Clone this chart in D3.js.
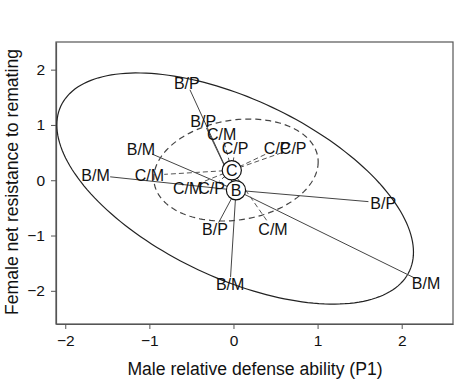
<!DOCTYPE html>
<html>
<head>
<meta charset="utf-8">
<script src="https://cdn.jsdelivr.net/npm/d3@7"></script>
<style>
  body { margin: 0; background: #fff; }
  text { font-family: Arial, "Liberation Sans", sans-serif; }
</style>
</head>
<body>
<svg width="474" height="385"></svg>
<script>
// group centroids
var groupNames = ["B", "C"],
    groupX = [0.03, -0.02],
    groupY = [-0.18, 0.18];

// labelled points, each one tied to a group centroid
var pointGroup = ["B", "B", "B", "B", "B", "B", "B", "B",
                  "C", "C", "C", "C", "C", "C", "C", "C"],
    pointLabel = ["B/P", "B/P", "B/M", "B/M", "B/P", "B/M", "B/P", "B/M",
                  "C/M", "C/P", "C/P", "C/P", "C/M", "C/M", "C/P", "C/M"],
    pointX = [-0.555, -0.36, -1.10, -1.64, -0.22, -0.04, 1.78, 2.29,
              -0.14, 0.02, 0.52, 0.71, -1.00, -0.545, -0.26, 0.47],
    pointY = [1.76, 1.07, 0.56, 0.09, -0.89, -1.88, -0.41, -1.87,
              0.84, 0.57, 0.57, 0.57, 0.09, -0.14, -0.14, -0.89];

// ellipses: centre, half extents along x and y, and their correlation
var ellipseGroup = ["B", "C"],
    ellipseCx = [0.02, 0.03],
    ellipseCy = [-0.15, 0.185],
    ellipseAx = [2.12, 0.977],
    ellipseAy = [2.09, 0.922],
    ellipseR = [-0.55, 0.16];

var xTicks = [-2, -1, 0, 1, 2],
    yTicks = [-2, -1, 0, 1, 2];

var svg = d3.select("svg"),
    margin = {top: 42, left: 56},
    width = 397,
    height = 282;

var x = d3.scaleLinear().domain([-2.11, 2.61]).range([0, width]);
var y = d3.scaleLinear().domain([-2.6, 2.5]).range([height, 0]);

var g = svg.append("g").attr("transform", "translate(" + margin.left + "," + margin.top + ")");

// frame
g.append("rect")
    .attr("width", width).attr("height", height)
    .attr("fill", "none").attr("stroke", "#555").attr("stroke-width", 1.2);

var xAxis = g.append("g").attr("transform", "translate(0," + height + ")")
    .call(d3.axisBottom(x).tickValues(xTicks).tickSize(5).tickSizeOuter(0).tickPadding(6).tickFormat(d3.format("d")));
var yAxis = g.append("g")
    .call(d3.axisLeft(y).tickValues(yTicks).tickSize(5).tickSizeOuter(0).tickPadding(6).tickFormat(d3.format("d")));

[xAxis, yAxis].forEach(function(a) {
  a.select(".domain").attr("stroke", "#555").attr("stroke-width", 1.2);
  a.selectAll(".tick line").attr("stroke", "#555");
  a.selectAll(".tick text").attr("fill", "#111").style("font-size", "15.5px")
      .style("font-family", "Arial, 'Liberation Sans', sans-serif");
});

// axis titles
svg.append("text")
    .attr("x", 255).attr("y", 375)
    .attr("text-anchor", "middle")
    .style("font-size", "17.6px").attr("fill", "#111")
    .text("Male relative defense ability (P1)");

svg.append("text")
    .attr("transform", "translate(18,182) rotate(-90)")
    .attr("text-anchor", "middle")
    .style("font-size", "17.6px").attr("fill", "#111")
    .text("Female net resistance to remating");

// ellipses
var ellipseLine = d3.line().curve(d3.curveLinearClosed);
ellipseGroup.forEach(function(grp, i) {
  var phi = Math.acos(ellipseR[i]);
  var pts = d3.range(0, 2 * Math.PI, Math.PI / 90).map(function(t) {
    return [x(ellipseCx[i] + ellipseAx[i] * Math.cos(t)),
            y(ellipseCy[i] + ellipseAy[i] * Math.cos(t + phi))];
  });
  g.append("path")
      .attr("d", ellipseLine(pts))
      .attr("fill", "none")
      .attr("stroke", grp === "B" ? "#222" : "#444")
      .attr("stroke-width", 1.2)
      .attr("stroke-dasharray", grp === "B" ? null : "6,4");
});

// spokes from centroid to each label, stopping at the label's edge
var points = pointLabel.map(function(lab, i) {
  var k = groupNames.indexOf(pointGroup[i]);
  return {label: lab, group: pointGroup[i],
          px: x(pointX[i]), py: y(pointY[i]),
          cx: x(groupX[k]), cy: y(groupY[k])};
});

g.selectAll(".spoke")
  .data(points)
  .enter().append("line")
    .attr("class", "spoke")
    .attr("x1", function(d) { return d.cx; })
    .attr("y1", function(d) { return d.cy; })
    .attr("x2", function(d) { return d.px - gap(d)[0]; })
    .attr("y2", function(d) { return d.py - gap(d)[1]; })
    .attr("stroke", function(d) { return d.group === "B" ? "#444" : "#555"; })
    .attr("stroke-width", 1)
    .attr("stroke-dasharray", function(d) { return d.group === "B" ? null : "5,3"; });

function gap(d) {
  var dx = d.px - d.cx, dy = d.py - d.cy, len = Math.sqrt(dx * dx + dy * dy);
  var ux = dx / len, uy = dy / len;
  var t = 1 / Math.sqrt((ux / 15) * (ux / 15) + (uy / 7) * (uy / 7));
  return [ux * t, uy * t];
}

g.selectAll(".plabel")
  .data(points)
  .enter().append("text")
    .attr("class", "plabel")
    .attr("x", function(d) { return d.px; })
    .attr("y", function(d) { return d.py; })
    .attr("dy", "0.36em")
    .attr("text-anchor", "middle")
    .style("font-size", "16px").attr("fill", "#111")
    .text(function(d) { return d.label; });

// centroid circles
var cents = g.selectAll(".cent")
  .data(groupNames)
  .enter().append("g")
    .attr("class", "cent")
    .attr("transform", function(d, i) { return "translate(" + x(groupX[i]) + "," + y(groupY[i]) + ")"; });

cents.append("circle")
    .attr("r", 9.6)
    .attr("fill", "#fff")
    .attr("stroke", "#111")
    .attr("stroke-width", 1.2);

cents.append("text")
    .attr("dy", "0.36em")
    .attr("text-anchor", "middle")
    .style("font-size", "16px").attr("fill", "#111")
    .text(function(d) { return d; });
</script>
</body>
</html>
